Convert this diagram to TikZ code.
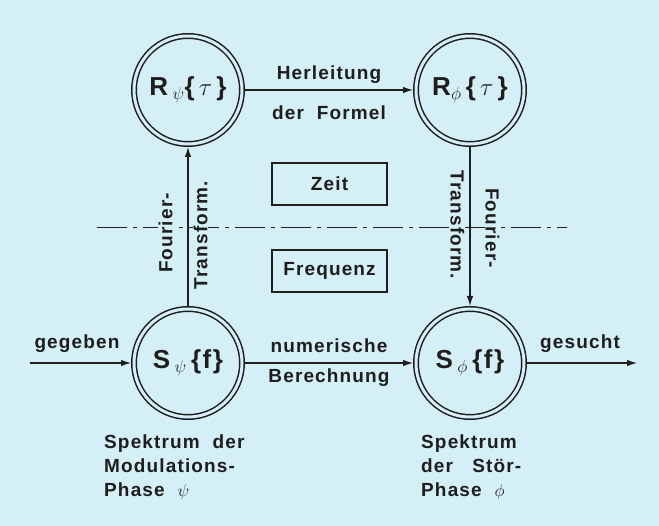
\documentclass[tikz,border=0pt]{standalone}
\usepackage{fontspec}
\setmainfont{Liberation Sans}[LetterSpace=6]
\usetikzlibrary{arrows.meta}
\definecolor{bg}{RGB}{212,239,246}
\definecolor{ink}{RGB}{30,30,30}
\tikzset{
  ring/.style={circle, draw=ink, line width=1.5pt, double=bg, double distance=3pt,
    minimum size=108pt, inner sep=0pt, outer sep=3pt, text=ink,
    font=\bfseries\fontsize{26}{30}\selectfont},
  arr/.style={draw=ink, line width=1.2pt, -{Latex[length=10pt,width=6.5pt]}},
  lbl/.style={text=ink, inner sep=1pt, font=\bfseries\fontsize{19}{24}\selectfont},
  frame/.style={lbl, draw=ink, line width=1.4pt, minimum width=115pt, minimum height=42pt},
  axisline/.style={draw=ink, line width=1pt, dash pattern=on 30pt off 6pt on 4pt off 6pt},
  vlbl/.style={lbl, fill=bg}
}
\begin{document}
\begin{tikzpicture}[x=1pt,y=-1pt]
\fill[bg] (0,0) rectangle (659,526);
\useasboundingbox (0,0) rectangle (659,526);
% time / frequency separator
\coordinate (dl) at (97,228);
\coordinate (dr) at (567,228);
\draw[axisline] (dl) -- (dr);
% rings
\node[ring] (Rpsi) at (188,90) {R\,$_{\psi}$\{$\,\tau\,$\}};
\node[ring] (Rphi) at (470,90) {R$_{\phi}$\,\{$\,\tau\,$\}};
\node[ring] (Spsi) at (188,363) {S\,$_{\psi}$\,\{f\}};
\node[ring] (Sphi) at (470,363) {S\,$_{\phi}$\,\{f\}};
% boxes
\node[frame] (zeit) at (329.5,184) {Zeit};
\node[frame] (freq) at (329.5,271) {Frequenz};
% rotated labels
\node[vlbl, rotate=90] (f1) at (165.5,233) {Fourier-};
\node[vlbl, rotate=90] (t1) at (200.5,235) {Transform.};
\node[vlbl, rotate=-90] (t2) at (457.5,225) {Transform.};
\node[vlbl, rotate=-90] (f2) at (492.5,228) {Fourier-};
% edge labels
\node[lbl, anchor=base] (h1) at (329,80) {Herleitung};
\node[lbl, anchor=base] (h2) at (329,120) {der\ \ Formel};
\node[lbl, anchor=base] (n1) at (329,353) {numerische};
\node[lbl, anchor=base] (n2) at (329,383) {Berechnung};
\node[lbl, anchor=base] (gg) at (77,349) {gegeben};
\node[lbl, anchor=base] (gs) at (580,349) {gesucht};
% arrows
\coordinate (gin) at (30,363);
\coordinate (gout) at (637,363);
\draw[arr] (Rpsi) -- (Rphi);
\draw[arr] (Spsi) -- (Sphi);
\draw[arr] (Spsi) -- (Rpsi);
\draw[arr] (Rphi) -- (Sphi);
\draw[arr] (gin) -- (Spsi);
\draw[arr] (Sphi) -- (gout);
% captions
\node[lbl, anchor=north west, align=left] (capl) at (103,434)
  {Spektrum\ \ der\\Modulations-\\Phase\ \ $\psi$};
\node[lbl, anchor=north west, align=left] (capr) at (420,434)
  {Spektrum\\der\ \ \ Stör-\\Phase\ \ $\phi$};
\end{tikzpicture}
\end{document}
